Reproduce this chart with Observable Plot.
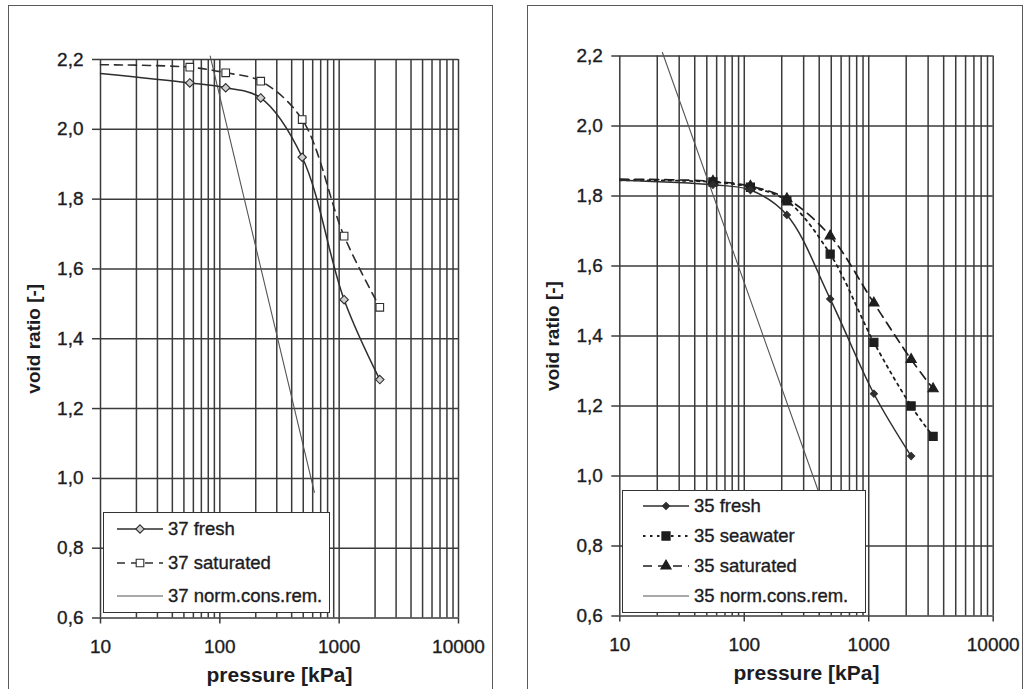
<!DOCTYPE html>
<html>
<head>
<meta charset="utf-8">
<script src="https://cdn.jsdelivr.net/npm/d3@7"></script>
<script src="https://cdn.jsdelivr.net/npm/@observablehq/plot@0.6"></script>
<style>
  html, body { margin: 0; padding: 0; background: #fff; }
  body { width: 1026px; height: 689px; position: relative; overflow: hidden;
         font-family: "Liberation Sans", Arial, sans-serif; color: #1c1c22; }
  .chart { position: absolute; top: 0; }
  .panel { position: absolute; top: 5px; height: 720px; border: 1.5px solid #5a5a5a;
           box-sizing: border-box; pointer-events: none; }
  .legend { position: absolute; background: #fff; border: 1.5px solid #333; box-sizing: border-box; }
  .legend .row { position: absolute; left: 0; height: 20px; display: flex; align-items: center;
                 font-size: 18.5px; white-space: nowrap; -webkit-text-stroke: 0.35px #1c1c22; }
  .legend svg { display: block; }
  /* slightly heavier tick labels */
  svg g[aria-label$="tick label"] text { font-size: 19px !important; stroke: #1c1c22; stroke-width: 0.35px; }
</style>
</head>
<body>
<div id="left" class="chart" style="left:0"></div>
<div id="right" class="chart" style="left:513px"></div>
<div class="panel" style="left:8px;width:485px"></div>
<div class="panel" style="left:527px;width:496px"></div>
<script>
// ---- sample 37: oedometer loading steps ----
const pressure37 = [56, 112, 220, 490, 1100, 2190];
const fresh37 = [2.133, 2.119, 2.090, 1.920, 1.512, 1.283];
const saturated37 = [2.178, 2.162, 2.138, 2.028, 1.694, 1.490];
// void ratio where each measured curve enters the chart at 10 kPa
const fresh37Start = 2.160;
const saturated37Start = 2.185;
// normally consolidated remoulded line (straight in e - log p)
const normPressure37 = [83, 620];
const norm37 = [2.21, 0.96];

// ---- sample 35 ----
const pressure35 = [56, 112, 220, 490, 1100, 2190, 3290];
const fresh35 = [1.832, 1.817, 1.746, 1.506, 1.235, 1.057];
const seawater35 = [1.840, 1.825, 1.786, 1.634, 1.382, 1.200, 1.113];
const saturated35 = [1.842, 1.828, 1.792, 1.686, 1.494, 1.333, 1.249];
const fresh35Start = 1.845;
const seawater35Start = 1.845;
const saturated35Start = 1.848;
const normPressure35 = [22, 400];
const norm35 = [2.21, 0.95];

// ---- axes ----
const xTicks = [10, 100, 1000, 10000];
const yTicks = [0.6, 0.8, 1.0, 1.2, 1.4, 1.6, 1.8, 2.0, 2.2];
const xLabel = "pressure [kPa]";
const yLabel = "void ratio [-]";
// log grid: every integer multiple inside each decade
const xGrid = [];
for (const decade of [10, 100, 1000]) for (let k = 1; k < 10; k++) xGrid.push(decade * k);
xGrid.push(10000);

const ink = "#2e2e2e";
const gridInk = "#3b3b3b";
const textInk = "#1c1c22";
const commaFormat = d => d.toFixed(1).replace(".", ",");

function rows(pressure, values, start) {
  const pts = pressure.slice(0, values.length).map((p, i) => ({p, e: values[i]}));
  return {line: start == null ? pts : [{p: 10, e: start}, ...pts], dots: pts};
}
function normRows(pressure, values) {
  return pressure.map((p, i) => ({p, e: values[i]}));
}

// series style definitions
const styles = {
  fresh37:    {dash: null,  symbol: "diamond2", r: 3.8, fill: "#cfcfcf", stroke: ink, width: 1.5},
  saturated37:{dash: "8,6", symbol: "square",  r: 4.3, fill: "#fff",    stroke: ink, width: 1.6},
  fresh35:    {dash: null,  symbol: "diamond2", r: 3.2, fill: ink,       stroke: ink, width: 1.5},
  seawater35: {dash: "2.5,4.5", symbol: "square", r: 4.6, fill: "#1e1e1e", stroke: "#1e1e1e", width: 1.8},
  saturated35:{dash: "9,6", symbol: "triangle", r: 3.8, fill: "#1e1e1e", stroke: "#1e1e1e", width: 1.7},
  norm:       {dash: null,  symbol: null, stroke: "#555", width: 1.1}
};

function seriesMarks(data, st) {
  const marks = [
    Plot.line(data.line, {x: "p", y: "e", curve: "catmull-rom", stroke: st.stroke,
      strokeWidth: st.width, strokeDasharray: st.dash ?? undefined})
  ];
  if (st.symbol) marks.push(Plot.dot(data.dots, {x: "p", y: "e", symbol: () => st.symbol, r: st.r,
      fill: st.fill, stroke: st.stroke, strokeWidth: 1.1}));
  return marks;
}

function chart({width, marginLeft, marginRight, marginTop, marginBottom, series, norm}) {
  return Plot.plot({
    width, height: 689, marginLeft, marginRight, marginTop, marginBottom,
    style: {background: "transparent", fontFamily: "'Liberation Sans', Arial, sans-serif",
            color: textInk, overflow: "visible"},
    x: {type: "log", domain: [10, 10000]},
    y: {domain: [0.6, 2.2]},
    marks: [
      Plot.ruleX(xGrid, {stroke: gridInk, strokeWidth: 1.5}),
      Plot.ruleY(yTicks, {stroke: gridInk, strokeWidth: 1.5}),
      Plot.axisX(xTicks, {tickSize: 6, tickPadding: 15, tickFormat: d => String(d),
        stroke: gridInk, strokeWidth: 1.5, fontSize: 19, fill: textInk, label: null}),
      Plot.axisY(yTicks, {tickSize: 8, tickPadding: 9, tickFormat: commaFormat,
        stroke: gridInk, strokeWidth: 1.5, fontSize: 19, fill: textInk, label: null}),
      // axis titles
      Plot.text([xLabel], {frameAnchor: "bottom", lineAnchor: "middle", dy: 57,
        fontSize: 21, fontWeight: "bold", fill: textInk}),
      Plot.text([yLabel], {frameAnchor: "left", textAnchor: "middle", lineAnchor: "middle",
        rotate: -90, dx: -67, fontSize: 19, fontWeight: "bold", fill: textInk}),
      Plot.line(norm, {x: "p", y: "e", stroke: styles.norm.stroke, strokeWidth: styles.norm.width}),
      ...series.flatMap(([data, st]) => seriesMarks(data, st))
    ]
  });
}

const left = chart({
  width: 513, marginLeft: 100, marginRight: 55, marginTop: 59, marginBottom: 71.5,
  norm: normRows(normPressure37, norm37),
  series: [
    [rows(pressure37, saturated37, saturated37Start), styles.saturated37],
    [rows(pressure37, fresh37, fresh37Start), styles.fresh37]
  ]
});
document.getElementById("left").append(left);

const right = chart({
  width: 513, marginLeft: 106.3, marginRight: 33.3, marginTop: 55.5, marginBottom: 73.5,
  norm: normRows(normPressure35, norm35),
  series: [
    [rows(pressure35, saturated35, saturated35Start), styles.saturated35],
    [rows(pressure35, seawater35, seawater35Start), styles.seawater35],
    [rows(pressure35, fresh35, fresh35Start), styles.fresh35]
  ]
});
document.getElementById("right").append(right);

// ---- legends ----
const legend37 = [
  ["37 fresh", styles.fresh37],
  ["37 saturated", styles.saturated37],
  ["37 norm.cons.rem.", styles.norm]
];
const legend35 = [
  ["35 fresh", styles.fresh35],
  ["35 seawater", styles.seawater35],
  ["35 saturated", styles.saturated35],
  ["35 norm.cons.rem.", styles.norm]
];
const symbolTypes = {diamond2: d3.symbolDiamond2, square: d3.symbolSquare, triangle: d3.symbolTriangle};

function legend({left, top, width, height, items, rowTop, rowStep, sampleLeft, sampleWidth}) {
  const box = document.createElement("div");
  box.className = "legend";
  Object.assign(box.style, {left: left + "px", top: top + "px", width: width + "px", height: height + "px"});
  items.forEach(([name, st], i) => {
    const row = document.createElement("div");
    row.className = "row";
    row.style.top = (rowTop + i * rowStep - 10) + "px";
    row.style.left = sampleLeft + "px";
    const svg = d3.create("svg").attr("width", sampleWidth + 5).attr("height", 20);
    svg.append("line").attr("x1", 0).attr("x2", sampleWidth).attr("y1", 10).attr("y2", 10)
      .attr("stroke", st.stroke).attr("stroke-width", st.width)
      .attr("stroke-dasharray", st.dash);
    if (st.symbol) {
      svg.append("path")
        .attr("d", d3.symbol(symbolTypes[st.symbol], Math.PI * st.r * st.r)())
        .attr("transform", `translate(${sampleWidth / 2},10)`)
        .attr("fill", st.fill).attr("stroke", st.stroke).attr("stroke-width", 1.1);
    }
    row.append(svg.node());
    const label = document.createElement("span");
    label.textContent = name;
    row.append(label);
    box.append(row);
  });
  document.body.append(box);
}

legend({left: 103, top: 512, width: 227, height: 101, items: legend37,
        rowTop: 16, rowStep: 33.5, sampleLeft: 13, sampleWidth: 46});
legend({left: 622, top: 490, width: 244, height: 123, items: legend35,
        rowTop: 15, rowStep: 30, sampleLeft: 20, sampleWidth: 46});
</script>
</body>
</html>
